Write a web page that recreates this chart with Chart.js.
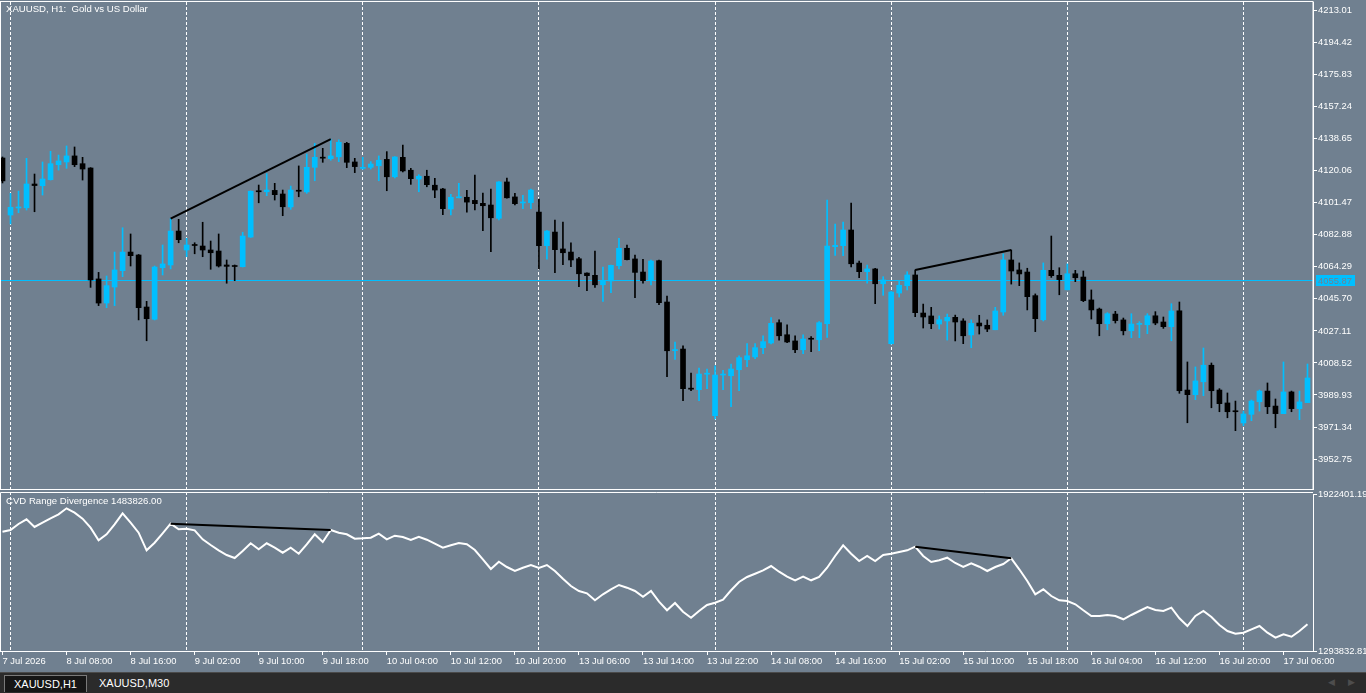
<!DOCTYPE html>
<html><head><meta charset="utf-8">
<script src="https://cdn.jsdelivr.net/npm/chart.js@4.4.1/dist/chart.umd.min.js"></script>
<style>
html,body{margin:0;padding:0;background:#708090;width:1366px;height:693px;overflow:hidden;font-family:"Liberation Sans",Arial,sans-serif;}
#main{position:absolute;left:0;top:0;}
#ind{position:absolute;left:0;top:490px;}
#tabs{position:absolute;left:0;top:672px;width:1366px;height:21px;background:#2b2b2b;border-top:1px solid #4a4a4a;box-sizing:border-box;}
.tab{position:absolute;top:2px;height:16px;line-height:16px;color:#fff;font-size:11px;padding:0 9px;}
#t1{left:4px;background:#161616;border:1px solid #7a7a7a;border-bottom:none;}
#t2{left:90px;}
.arr{position:absolute;top:4px;color:#4d4d4d;font-size:9px;}
</style></head>
<body>
<canvas id="main" width="1366" height="490"></canvas>
<canvas id="ind" width="1366" height="182"></canvas>
<div id="tabs"><div class="tab" id="t1">XAUUSD,H1</div><div class="tab" id="t2">XAUUSD,M30</div><span class="arr" style="left:1328px">&#9664;</span><span class="arr" style="left:1348px">&#9654;</span></div>
<script>
// ---------- DATA ----------
const symbolTitle = "XAUUSD, H1:  Gold vs US Dollar";
const indicatorName = "CVD Range Divergence";
const indicatorShownValue = 1483826.00;
const currentPrice = 4055.87;

const opens = [4127.5,4094.4,4098.5,4098.6,4112.4,4111.4,4114.9,4123.6,4125.2,4128.7,4124.2,4121.7,4057.3,4043.3,4052.6,4062.1,4072.9,4071.2,4041.0,4033.9,
4063.8,4065.4,4085.1,4074.1,4077.3,4076.4,4074.1,4073.5,4065.4,4065.1,4064.4,4081.6,4108.5,4107.9,4108.7,4106.6,4099.1,4108.8,4107.8,4122.1,
4127.9,4127.1,4128.2,4136.0,4125.2,4121.5,4122.1,4123.0,4126.7,4116.6,4127.9,4120.4,4115.3,4116.9,4111.7,4109.5,4097.9,4104.4,4104.7,4102.9,
4101.2,4100.2,4092.5,4113.6,4104.9,4101.4,4101.6,4096.1,4076.6,4084.5,4074.7,4072.9,4069.0,4060.7,4059.4,4053.9,4056.1,4065.0,4075.1,4068.9,
4061.3,4056.5,4067.9,4043.9,4015.7,4016.6,3993.9,3993.0,4002.0,3977.9,4001.5,4001.1,4004.6,4010.4,4012.0,4017.4,4020.1,4031.9,4024.9,4021.3,
4016.2,4022.8,4022.0,4031.3,4076.0,4076.6,4085.7,4066.5,4061.5,4063.1,4054.5,4019.7,4049.1,4053.4,4059.6,4037.5,4035.8,4031.1,4032.9,4035.0,
4032.9,4024.8,4031.7,4030.4,4027.8,4038.1,4068.3,4062.5,4061.3,4047.6,4033.6,4062.3,4059.4,4051.0,4060.3,4058.4,4045.1,4039.8,4031.3,4036.9,
4033.5,4027.2,4030.9,4030.7,4035.9,4032.3,4029.6,4038.8,3992.8,3990.1,3997.6,4007.2,3992.8,3985.3,3980.7,3973.7,3978.7,3986.0,3992.2,3983.5,
3979.1,3991.7,3982.0,3985.5];
const highs = [4128.1,4107.0,4108.3,4127.3,4118.2,4125.2,4131.4,4129.2,4134.5,4133.9,4127.9,4121.9,4061.1,4059.0,4072.9,4087.0,4083.4,4071.5,4044.3,4064.8,
4077.0,4092.3,4091.9,4080.9,4078.3,4090.2,4079.3,4083.4,4068.3,4065.4,4084.4,4108.4,4111.8,4118.4,4112.8,4108.9,4111.2,4122.9,4129.8,4136.0,
4133.1,4138.4,4138.0,4136.6,4127.3,4127.9,4125.4,4128.7,4131.2,4128.3,4135.0,4121.5,4117.8,4120.4,4115.7,4109.9,4106.4,4112.8,4108.7,4117.6,
4107.2,4109.5,4113.8,4115.9,4107.0,4105.8,4109.5,4103.7,4085.3,4091.5,4090.3,4078.2,4069.9,4060.9,4073.5,4064.2,4065.4,4080.9,4077.0,4071.2,
4068.7,4068.3,4068.3,4047.4,4020.7,4018.4,4002.7,4005.6,4005.0,4006.9,4004.2,4007.9,4012.7,4019.7,4019.7,4024.3,4034.8,4033.5,4030.7,4024.3,
4024.8,4023.8,4032.5,4103.1,4089.2,4090.3,4101.4,4067.7,4065.4,4063.5,4058.6,4050.0,4056.3,4061.5,4062.5,4042.7,4040.8,4035.8,4036.9,4036.3,
4034.2,4033.5,4036.2,4033.5,4040.8,4071.8,4074.1,4066.6,4063.5,4048.6,4066.6,4082.2,4063.8,4066.0,4062.3,4061.9,4050.9,4040.4,4037.7,4038.5,
4034.6,4037.1,4032.5,4037.1,4038.3,4035.2,4042.9,4043.9,4009.1,4006.2,4017.2,4008.5,3993.6,3991.1,3986.4,3980.5,3987.0,3992.8,3996.9,3987.6,
4009.1,3992.2,3992.2,4007.9];
const lows = [4113.0,4089.2,4095.7,4097.3,4096.3,4106.0,4114.7,4120.5,4121.5,4122.5,4114.7,4052.4,4041.8,4040.6,4041.8,4058.6,4064.8,4033.5,4021.4,4033.5,
4059.6,4063.1,4078.3,4070.2,4071.9,4070.2,4062.9,4064.2,4054.8,4056.3,4064.2,4081.4,4101.5,4105.6,4103.1,4094.0,4097.7,4105.0,4107.0,4114.3,
4125.0,4126.2,4125.4,4121.9,4119.0,4120.9,4121.1,4114.3,4108.5,4115.9,4119.4,4112.2,4107.9,4110.8,4104.4,4094.6,4094.4,4104.3,4096.1,4097.3,
4085.3,4073.1,4091.5,4104.2,4100.2,4098.1,4098.1,4063.1,4068.7,4060.9,4065.6,4064.4,4052.8,4050.5,4052.4,4044.3,4049.3,4063.1,4068.3,4046.4,
4054.8,4053.8,4042.3,4000.5,4010.6,3986.6,3992.4,3986.6,3993.6,3976.0,3993.0,3983.1,3992.4,4006.3,4011.0,4013.9,4019.5,4021.8,4020.3,4014.5,
4013.9,4015.1,4015.6,4023.4,4071.0,4070.8,4064.2,4058.0,4054.8,4042.9,4047.8,4019.4,4046.8,4050.9,4035.4,4028.8,4028.4,4028.2,4021.8,4021.3,
4019.7,4017.4,4025.3,4026.7,4027.8,4036.2,4054.3,4053.4,4039.3,4026.7,4032.9,4058.2,4048.1,4051.0,4055.7,4044.1,4034.0,4024.3,4027.8,4031.7,
4024.8,4023.2,4023.2,4025.5,4030.7,4028.6,4021.4,3990.9,3973.8,3987.2,3989.5,3982.5,3980.2,3976.7,3969.2,3972.1,3975.0,3980.6,3979.1,3970.9,
3979.1,3980.2,3975.6,3985.5];
const closes = [4114.2,4098.9,4099.1,4112.4,4111.5,4115.3,4124.2,4125.8,4128.7,4123.6,4121.1,4056.7,4043.3,4053.4,4062.5,4072.9,4070.8,4040.6,4034.2,4064.2,
4066.0,4085.1,4080.1,4077.0,4076.7,4074.1,4072.5,4064.8,4064.6,4064.5,4082.2,4108.2,4107.9,4108.9,4106.2,4099.2,4108.9,4108.2,4122.1,4127.9,
4127.4,4128.7,4136.6,4125.0,4122.5,4121.9,4124.0,4126.2,4116.6,4128.1,4120.0,4115.5,4116.9,4112.0,4108.9,4098.1,4104.7,4104.9,4101.9,4101.0,
4099.8,4092.8,4113.6,4104.4,4101.0,4101.8,4108.9,4076.6,4085.1,4074.3,4072.5,4068.3,4060.3,4059.2,4053.9,4056.5,4065.2,4075.1,4068.5,4061.1,
4056.3,4067.7,4043.5,4015.6,4016.3,3993.6,3993.3,4002.1,4002.4,4001.5,4001.9,4005.0,4011.6,4012.7,4017.4,4020.9,4031.5,4024.3,4020.7,4016.2,
4022.4,4022.3,4031.9,4076.4,4076.8,4085.7,4066.1,4061.5,4063.1,4054.5,4056.7,4049.7,4053.6,4059.6,4037.7,4035.2,4031.3,4033.6,4035.0,4032.3,
4024.3,4031.5,4030.0,4028.2,4038.7,4068.3,4061.9,4060.2,4047.0,4034.2,4062.3,4059.2,4056.9,4060.3,4058.0,4044.7,4039.3,4031.3,4037.1,4033.1,
4027.2,4031.1,4031.2,4035.9,4031.7,4029.6,4038.7,3992.4,3990.1,3998.1,4007.2,3992.4,3984.9,3980.2,3980.2,3978.9,3986.4,3992.2,3983.1,3979.1,
3991.7,3982.0,3985.9,3999.8];
const cvd = [1771500,1778300,1802300,1821100,1790300,1807500,1825100,1841100,1865100,1847500,1823500,1787500,1737000,1761100,1801100,1845100,1807500,1767500,1697000,1727400,
1765100,1803500,1781100,1783500,1777100,1741000,1718200,1697000,1678200,1666200,1694200,1725000,1701000,1725000,1707400,1687400,1707400,1683400,1721000,1761100,
1730200,1778300,1767500,1761100,1743400,1745000,1747400,1763500,1741000,1755400,1750200,1738200,1751400,1739400,1723400,1707400,1717000,1726200,1721000,1698200,
1661000,1622100,1651400,1630100,1614100,1627300,1638100,1626100,1638100,1614100,1583300,1554100,1534100,1524800,1496800,1520800,1540900,1558100,1547300,1534100,
1511200,1534100,1491200,1456800,1486000,1451200,1427200,1454000,1478000,1487200,1499200,1536900,1570100,1590100,1603300,1616900,1634100,1611300,1591300,1576900,
1591300,1576900,1590100,1627300,1674200,1717000,1683400,1654200,1674200,1654200,1678200,1683400,1690200,1697000,1711400,1674200,1650200,1657000,1667400,1646200,
1630100,1645000,1631300,1614100,1630100,1642100,1665000,1620900,1574100,1520800,1540900,1514000,1496800,1494000,1480800,1456800,1434000,1434000,1438000,1434000,
1420800,1438000,1454000,1470000,1458000,1454000,1467200,1424800,1393900,1434000,1454000,1430000,1397900,1373900,1363100,1367100,1380700,1393900,1367100,1347100,
1360700,1351100,1373900,1400700];

const priceTicks = [4213.01,4194.42,4175.83,4157.24,4138.65,4120.06,4101.47,4082.88,4064.29,4045.70,4027.11,4008.52,3989.93,3971.34,3952.75];
const cvdTicks = [1922401.19,1293832.81];
const tickBars = [0,8,16,24,32,40,48,56,64,72,80,88,96,104,112,120,128,136,144,152,160];
const tickLabels = ["7 Jul 2026","8 Jul 08:00","8 Jul 16:00","9 Jul 02:00","9 Jul 10:00","9 Jul 18:00","10 Jul 04:00","10 Jul 12:00","10 Jul 20:00","13 Jul 06:00","13 Jul 14:00","13 Jul 22:00","14 Jul 08:00","14 Jul 16:00","15 Jul 02:00","15 Jul 10:00","15 Jul 18:00","16 Jul 04:00","16 Jul 12:00","16 Jul 20:00","17 Jul 06:00"];
const separatorBars = [1,23,45,67,89,111,133,155];
const divergencePairs = [[21,41],[114,126]];

// ---------- STYLE ----------
const BULL = '#00BFFF', BEAR = '#000000', WHITE = '#FFFFFF', BG = '#708090';
const FONT = '"Liberation Sans", Arial, sans-serif';
const FS = 9.4;
Chart.defaults.font.family = FONT;
Chart.defaults.font.size = FS;
Chart.defaults.color = WHITE;

const idx = opens.map((_, i) => i);
const barColors = idx.map(i => closes[i] >= opens[i] ? BULL : BEAR);
const X_MIN = -0.3125, X_MAX = 163.6875;

function noPad(s) { s.paddingTop = 0; s.paddingBottom = 0; }

function dashedSeparators(chart, top, bottom) {
  const ctx = chart.ctx, xs = chart.scales.x;
  ctx.save();
  ctx.strokeStyle = WHITE; ctx.lineWidth = 1; ctx.setLineDash([3, 2]);
  separatorBars.forEach(b => {
    const px = Math.floor(xs.getPixelForValue(b)) + 0.5;
    ctx.beginPath(); ctx.moveTo(px, top); ctx.lineTo(px, bottom); ctx.stroke();
  });
  ctx.restore();
}

function priceRow(chart) { return Math.round(chart.scales.y.getPixelForValue(currentPrice)) - 1; }

const mainPlugin = {
  id: 'mainPlugin',
  beforeDatasetsDraw(chart) {
    const ctx = chart.ctx, a = chart.chartArea;
    dashedSeparators(chart, a.top, a.bottom);
    const row = priceRow(chart);
    ctx.save();
    ctx.fillStyle = BULL;
    ctx.fillRect(0, row, a.right, 1);
    ctx.restore();
  },
  afterDraw(chart) {
    const ctx = chart.ctx, a = chart.chartArea;
    ctx.save();
    ctx.strokeStyle = WHITE; ctx.lineWidth = 1;
    ctx.strokeRect(0.5, 1.5, a.right - 0.5, 488);
    ctx.fillStyle = WHITE; ctx.font = '9.6px ' + FONT; ctx.textBaseline = 'middle'; ctx.textAlign = 'left';
    ctx.fillText(symbolTitle, 6, 9);
    ctx.font = FS + 'px ' + FONT;
    const row = priceRow(chart);
    ctx.fillStyle = BULL; ctx.fillRect(a.right + 3, row - 5, 39, 11);
    ctx.fillStyle = BG; ctx.fillText(currentPrice.toFixed(2), a.right + 5, row + 1);
    ctx.restore();
  }
};

new Chart(document.getElementById('main'), {
  type: 'bar',
  data: {
    datasets: [
      { type: 'line', data: divergencePairs[0].map(i => ({x: i, y: highs[i]})), borderColor: BEAR, borderWidth: 2, pointRadius: 0, order: 0 },
      { type: 'line', data: divergencePairs[1].map(i => ({x: i, y: highs[i]})), borderColor: BEAR, borderWidth: 2, pointRadius: 0, order: 0 },
      { data: idx.map(i => ({x: i, y: [opens[i], closes[i]]})), backgroundColor: barColors, borderWidth: 0, barThickness: 5, minBarLength: 1, grouped: false, order: 1 },
      { data: idx.map(i => ({x: i, y: [lows[i], highs[i]]})), backgroundColor: barColors, borderWidth: 0, barThickness: 1, grouped: false, order: 2 }
    ]
  },
  options: {
    responsive: false, animation: false, devicePixelRatio: 1, events: [],
    layout: { padding: { top: 2, left: 0, right: 0, bottom: 0 } },
    plugins: { legend: { display: false }, tooltip: { enabled: false } },
    scales: {
      x: { type: 'linear', min: X_MIN, max: X_MAX, offset: false, display: false },
      y: {
        type: 'linear', position: 'right', min: 3934.77, max: 4218.06,
        afterFit(s) { s.width = 53; noPad(s); },
        afterBuildTicks(s) { s.ticks = priceTicks.map(v => ({ value: v })); },
        grid: { display: true, drawOnChartArea: false, drawTicks: true, tickLength: 4, color: WHITE },
        border: { display: true, color: WHITE },
        ticks: { padding: 1, color: WHITE, autoSkip: false, callback: v => Number(v).toFixed(2) }
      }
    }
  },
  plugins: [mainPlugin]
});

const indPlugin = {
  id: 'indPlugin',
  beforeDatasetsDraw(chart) {
    const a = chart.chartArea;
    dashedSeparators(chart, 2, a.bottom);
  },
  afterDraw(chart) {
    const ctx = chart.ctx, a = chart.chartArea;
    ctx.save();
    ctx.strokeStyle = WHITE; ctx.lineWidth = 1;
    ctx.beginPath();
    ctx.moveTo(0.5, a.bottom); ctx.lineTo(0.5, 2.5); ctx.lineTo(a.right, 2.5);
    ctx.stroke();
    ctx.fillStyle = WHITE; ctx.font = '9.6px ' + FONT; ctx.textBaseline = 'middle'; ctx.textAlign = 'left';
    ctx.fillText(indicatorName + ' ' + indicatorShownValue.toFixed(2), 6, 11.5);
    ctx.restore();
  }
};

new Chart(document.getElementById('ind'), {
  type: 'line',
  data: {
    datasets: [
      { data: divergencePairs[0].map(i => ({x: i, y: cvd[i]})), borderColor: BEAR, borderWidth: 2, pointRadius: 0, order: 0 },
      { data: divergencePairs[1].map(i => ({x: i, y: cvd[i]})), borderColor: BEAR, borderWidth: 2, pointRadius: 0, order: 0 },
      { data: idx.map(i => ({x: i, y: cvd[i]})), borderColor: WHITE, borderWidth: 2, pointRadius: 0, tension: 0, order: 1 }
    ]
  },
  options: {
    responsive: false, animation: false, devicePixelRatio: 1, events: [],
    layout: { padding: { top: 4, left: 0, right: 0, bottom: 0 } },
    plugins: { legend: { display: false }, tooltip: { enabled: false } },
    scales: {
      x: {
        type: 'linear', min: X_MIN, max: X_MAX, offset: false,
        afterFit(s) { s.height = 21; },
        afterBuildTicks(s) { s.ticks = tickBars.map(v => ({ value: v })); },
        grid: { display: true, drawOnChartArea: false, drawTicks: true, tickLength: 4, color: WHITE },
        border: { display: true, color: WHITE },
        ticks: { padding: 1, color: WHITE, autoSkip: false, maxRotation: 0, align: 'start',
          callback: v => { const k = tickBars.indexOf(v); return k >= 0 ? tickLabels[k] : ''; } }
      },
      y: {
        type: 'linear', position: 'right', min: cvdTicks[1], max: cvdTicks[0],
        afterFit(s) { s.width = 53; noPad(s); },
        afterBuildTicks(s) { s.ticks = cvdTicks.map(v => ({ value: v })); },
        grid: { display: true, drawOnChartArea: false, drawTicks: true, tickLength: 4, color: WHITE },
        border: { display: true, color: WHITE },
        ticks: { padding: 1, color: WHITE, autoSkip: false, callback: v => Number(v).toFixed(2) }
      }
    }
  },
  plugins: [indPlugin]
});
</script>
</body></html>
